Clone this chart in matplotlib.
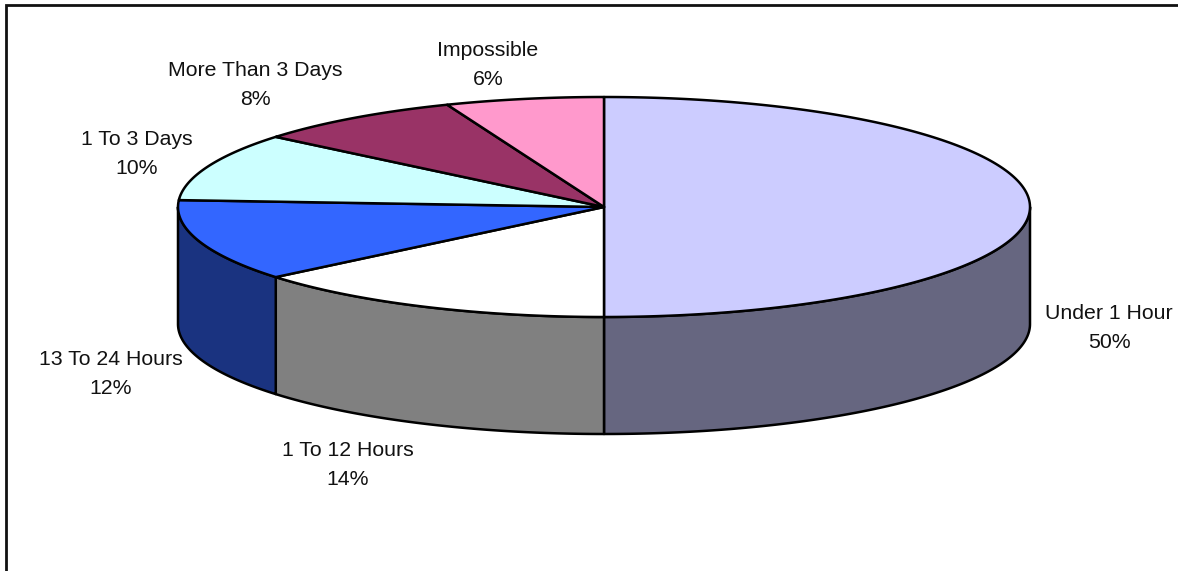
import numpy as np
import matplotlib
matplotlib.use("Agg")
import matplotlib.pyplot as plt

labels = ["Under 1 Hour", "1 To 12 Hours", "13 To 24 Hours", "1 To 3 Days",
          "More Than 3 Days", "Impossible"]
percents = [50, 14, 12, 10, 8, 6]
top_colors = ["#CCCCFF", "#FFFFFF", "#3366FF", "#CCFFFF", "#993366", "#FF99CC"]
side_colors = ["#666680", "#808080", "#1A3380", "#668080", "#4D1A33", "#804D66"]
label_pos = [(1109, 328), (348, 465), (111, 374), (137, 154), (255, 85), (488, 65)]

W, H = 1178, 571
CX, CY = 604, 207   # centre of the top ellipse
RX, RY = 426, 110
DEPTH = 117
EDGE = 1.8

plt.rcParams["font.family"] = ["Liberation Sans", "DejaVu Sans"]

fig = plt.figure(figsize=(W / 100, H / 100), dpi=100)
ax = fig.add_axes([0, 0, 1, 1])
ax.set_xlim(0, W)
ax.set_ylim(H, 0)
ax.axis("off")


def rim(a0, a1):
    # points on the top ellipse, angle clockwise from 12 o'clock
    t = np.radians(np.linspace(a0, a1, 200))
    return CX + RX * np.sin(t), CY - RY * np.cos(t)


# frame runs off the right and bottom of the figure
ax.plot([6, 6, W + 5], [H + 5, 4.5, 4.5], color="#111111", lw=2, solid_joinstyle="miter")

edges = np.cumsum([0] + percents) * 3.6

# outer wall, only the front half (90..270 degrees) can be seen
for i in range(len(percents)):
    a0 = max(edges[i], 90)
    a1 = min(edges[i + 1], 270)
    if a1 <= a0:
        continue
    x, y = rim(a0, a1)
    ax.fill(np.r_[x, x[::-1]], np.r_[y, y[::-1] + DEPTH],
            facecolor=side_colors[i], edgecolor="black", lw=EDGE, joinstyle="round")

# top face
for i in range(len(percents)):
    x, y = rim(edges[i], edges[i + 1])
    ax.fill(np.r_[CX, x], np.r_[CY, y], facecolor=top_colors[i],
            edgecolor="black", lw=EDGE, joinstyle="round", zorder=3)

for name, pct, (lx, ly) in zip(labels, percents, label_pos):
    ax.text(lx, ly, f"{name}\n{pct}%", ha="center", va="center", fontsize=15.3,
            color="#111111", linespacing=1.62)

fig.savefig("out.png", dpi=100, facecolor="white")
